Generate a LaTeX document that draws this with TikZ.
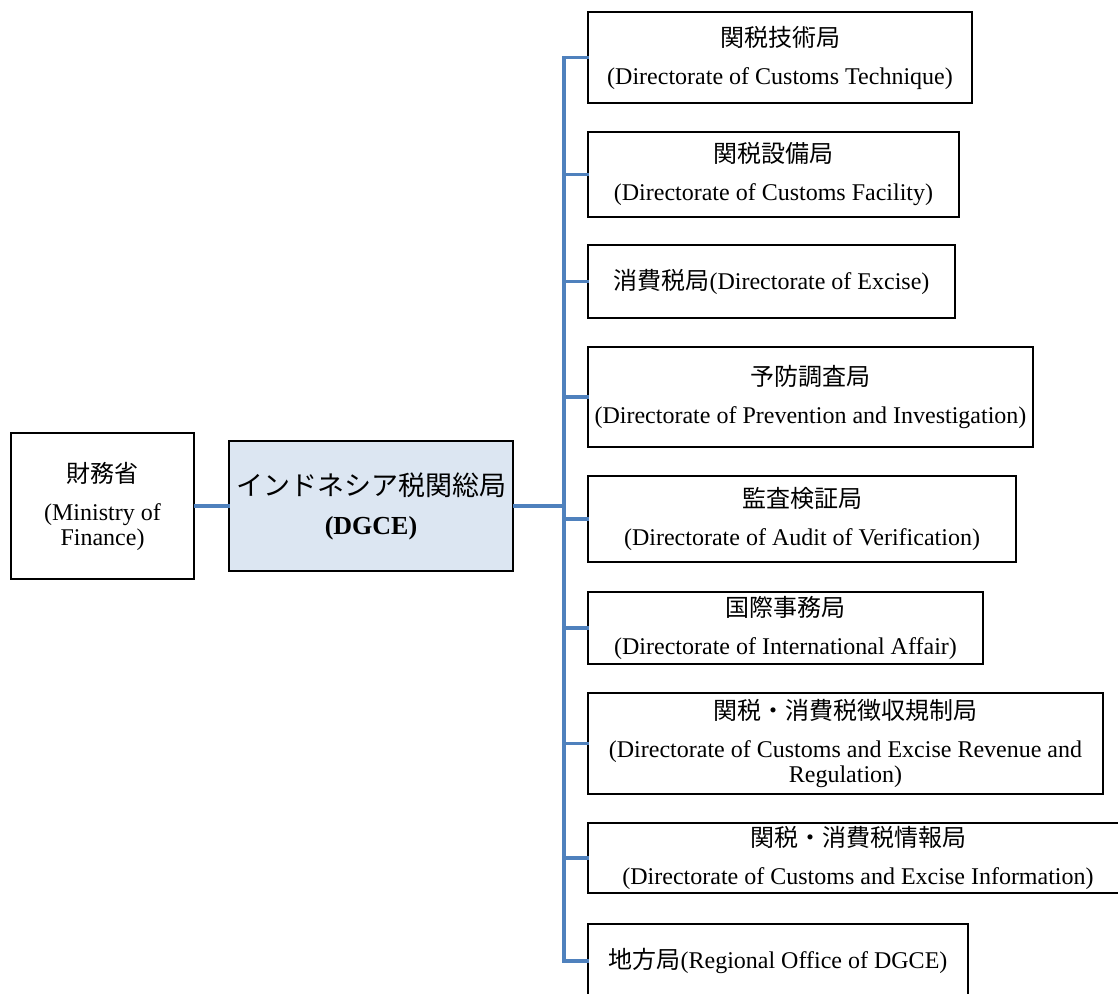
\documentclass[tikz,border=0pt]{standalone}
\usepackage{fontspec}
\setmainfont{Liberation Serif}
\newfontfamily\jp{Noto Sans CJK JP}
\usepackage{tikz}
\usetikzlibrary{calc}
\definecolor{linkblue}{HTML}{4F81BD}
\definecolor{headfill}{HTML}{DCE6F2}

\begin{document}
\begin{tikzpicture}[x=0.5pt,y=-0.5pt,
  box/.style = {draw, line width=1.1pt, align=center, inner sep=0pt,
                font=\fontsize{12}{12.5}\selectfont},
  link/.style = {draw=linkblue, line width=1.6pt, line cap=rect}]
\clip (0,0) rectangle (1118,994);
    \node[box, minimum width=91.5pt, minimum height=73pt] (mof) at (102.5,506)
        {{\jp 財務省}\\[6.5pt](Ministry of\\Finance)};
    \node[box, fill=headfill, minimum width=142pt, minimum height=65pt] (dgce) at (371,506)
        {{\jp\fontsize{13.5}{14}\selectfont インドネシア税関総局}\\[7pt]{\fontsize{13}{14}\selectfont\bfseries (DGCE)}};
    \coordinate (trunk) at (564,506);
    \node[box, minimum width=192pt, minimum height=45.5pt] (b1) at (780,57.5)
        {{\jp 関税技術局}\\[6.5pt](Directorate of Customs Technique)};
    \node[box, minimum width=185.5pt, minimum height=42.5pt] (b2) at (773.5,174.5)
        {{\jp 関税設備局}\\[6.5pt](Directorate of Customs Facility)};
    \node[box, minimum width=183.5pt, minimum height=36.5pt] (b3) at (771.5,281.5)
        {{\jp 消費税局}(Directorate of Excise)};
    \node[box, minimum width=222.5pt, minimum height=50pt] (b4) at (810.5,397)
        {{\jp 予防調査局}\\[6.5pt](Directorate of Prevention and Investigation)};
    \node[box, minimum width=214pt, minimum height=43pt] (b5) at (802,519)
        {{\jp 監査検証局}\\[6.5pt](Directorate of Audit of Verification)};
    \node[box, minimum width=197.5pt, minimum height=36pt] (b6) at (785.5,628)
        {{\jp 国際事務局}\\[6.5pt](Directorate of International Affair)};
    \node[box, minimum width=257.5pt, minimum height=50.5pt] (b7) at (845.5,743.5)
        {{\jp 関税・消費税徴収規制局}\\[6.5pt](Directorate of Customs and Excise Revenue and\\Regulation)};
    \node[box, minimum width=270pt, minimum height=35pt] (b8) at (858,858)
        {{\jp 関税・消費税情報局}\\[6.5pt](Directorate of Customs and Excise Information)};
    \node[box, minimum width=190pt, minimum height=37pt] (b9) at (778,961)
        {{\jp 地方局}(Regional Office of DGCE)};
    \draw[link] (mof) -- (dgce);
    \draw[link] (dgce) -- (trunk);
    \draw[link] (b1.west -| trunk) -- (b9.west -| trunk);
    \draw[link] (b1.west) -- (b1.west -| trunk);
    \draw[link] (b2.west) -- (b2.west -| trunk);
    \draw[link] (b3.west) -- (b3.west -| trunk);
    \draw[link] (b4.west) -- (b4.west -| trunk);
    \draw[link] (b5.west) -- (b5.west -| trunk);
    \draw[link] (b6.west) -- (b6.west -| trunk);
    \draw[link] (b7.west) -- (b7.west -| trunk);
    \draw[link] (b8.west) -- (b8.west -| trunk);
    \draw[link] (b9.west) -- (b9.west -| trunk);
\end{tikzpicture}
\end{document}
